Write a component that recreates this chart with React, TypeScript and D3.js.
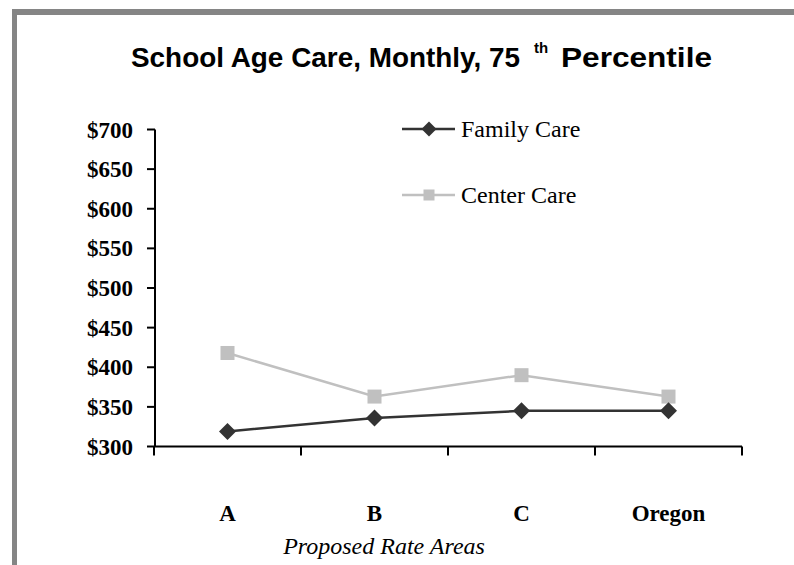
import React from "react";
import * as d3 from "d3";

const categories = ["A", "B", "C", "Oregon"];
const familyCare = [319, 336, 345, 345];
const centerCare = [418, 363, 390, 363];
const yTicks = [300, 350, 400, 450, 500, 550, 600, 650, 700];
const seriesNames = ["Family Care", "Center Care"];

const W = 794;
const H = 565;

export default function App() {
  const x = d3.scaleBand<string>().domain(categories).range([154, 742]);
  const y = d3.scaleLinear().domain([300, 700]).range([446.5, 129.5]);
  const cx = (c: string) => (x(c) as number) + x.bandwidth() / 2;

  const line = d3
    .line<number>()
    .x((_, i) => cx(categories[i]))
    .y((d) => y(d));

  const diamond = (px: number, py: number, r: number) =>
    `M${px},${py - r}L${px + r},${py}L${px},${py + r}L${px - r},${py}Z`;

  const serif = "'Liberation Serif', 'Times New Roman', serif";
  const sans = "'Liberation Sans', Arial, sans-serif";

  const bandEdges = categories.map((c) => x(c) as number).concat([742]);

  return (
    <svg
      width={W}
      height={H}
      style={{ position: "absolute", left: 0, top: 0, background: "#fff" }}
    >
      {/* frame */}
      <rect x={12} y={9} width={W - 12} height={6} fill="#858585" />
      <rect x={12} y={9} width={5} height={H - 9} fill="#858585" />

      {/* title */}
      <g fontFamily={sans} fontWeight="bold" fill="#000">
        <text x={131} y={67} fontSize={28.5} textLength={389} lengthAdjust="spacingAndGlyphs">
          School Age Care, Monthly, 75
        </text>
        <text x={534} y={53} fontSize={15}>
          th
        </text>
        <text x={561} y={67} fontSize={28.5} textLength={151} lengthAdjust="spacingAndGlyphs">
          Percentile
        </text>
      </g>

      {/* y axis */}
      <line x1={155} x2={155} y1={y(700)} y2={y(300)} stroke="#000" strokeWidth={2} />
      {yTicks.map((t) => (
        <g key={t}>
          <line x1={147} x2={155} y1={y(t)} y2={y(t)} stroke="#000" strokeWidth={2} />
          <text
            x={133}
            y={y(t)}
            dy="0.35em"
            textAnchor="end"
            fontFamily={serif}
            fontWeight="bold"
            fontSize={23}
          >
            {"$" + t}
          </text>
        </g>
      ))}

      {/* x axis */}
      <line x1={154} x2={742} y1={y(300)} y2={y(300)} stroke="#000" strokeWidth={2} />
      {bandEdges.map((e, i) => (
        <line key={i} x1={e} x2={e} y1={y(300)} y2={y(300) + 9} stroke="#000" strokeWidth={2} />
      ))}
      {categories.map((c) => (
        <text
          key={c}
          x={cx(c)}
          y={521}
          textAnchor="middle"
          fontFamily={serif}
          fontWeight="bold"
          fontSize={23}
        >
          {c}
        </text>
      ))}
      <text
        x={384}
        y={554}
        textAnchor="middle"
        fontFamily={serif}
        fontStyle="italic"
        fontSize={24}
      >
        Proposed Rate Areas
      </text>

      {/* series */}
      <path d={line(centerCare) as string} fill="none" stroke="#c0c0c0" strokeWidth={2.5} />
      {centerCare.map((v, i) => (
        <rect
          key={i}
          x={cx(categories[i]) - 7}
          y={y(v) - 7}
          width={14}
          height={14}
          fill="#c0c0c0"
        />
      ))}
      <path d={line(familyCare) as string} fill="none" stroke="#333" strokeWidth={2.5} />
      {familyCare.map((v, i) => (
        <path key={i} d={diamond(cx(categories[i]), y(v), 8.5)} fill="#333" />
      ))}

      {/* legend */}
      <line x1={402} x2={455} y1={129} y2={129} stroke="#333" strokeWidth={2.5} />
      <path d={diamond(429, 129, 7.5)} fill="#333" />
      <text x={461} y={129} dy="0.35em" fontFamily={serif} fontSize={24}>
        {seriesNames[0]}
      </text>
      <line x1={402} x2={455} y1={195} y2={195} stroke="#c0c0c0" strokeWidth={2.5} />
      <rect x={423.5} y={189.5} width={11} height={11} fill="#c0c0c0" />
      <text x={461} y={195} dy="0.35em" fontFamily={serif} fontSize={24}>
        {seriesNames[1]}
      </text>
    </svg>
  );
}
